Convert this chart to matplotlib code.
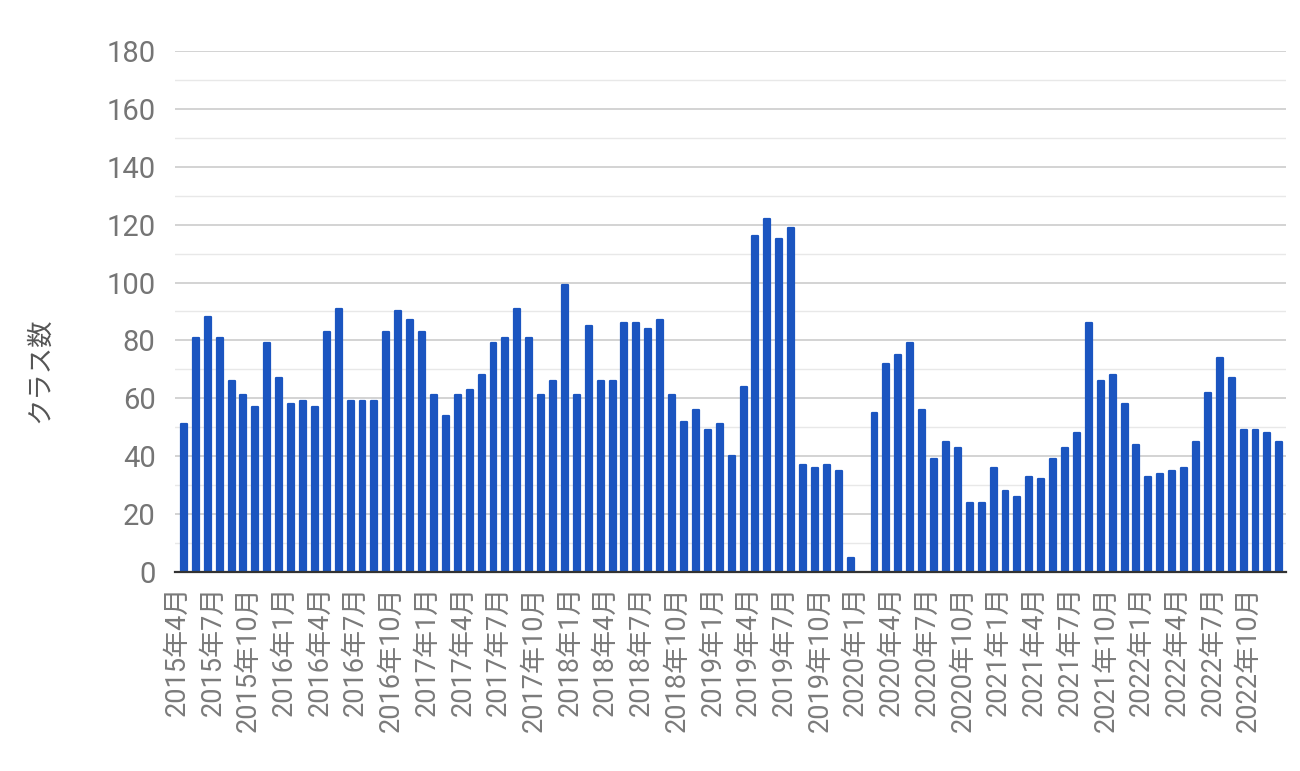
import matplotlib.pyplot as plt
import matplotlib.transforms as mtransforms
import numpy as np

plt.rcParams["font.family"] = ["Roboto", "Noto Sans CJK JP"]

# 月別クラス数 (2015年4月 - 2022年12月)
months = [f"{y}年{m}月" for y in range(2015, 2023) for m in range(1, 13)][3:]
counts = [
    51, 81, 88, 81, 66, 61, 57, 79, 67,              # 2015
    58, 59, 57, 83, 91, 59, 59, 59, 83, 90, 87, 83,  # 2016
    61, 54, 61, 63, 68, 79, 81, 91, 81, 61, 66, 99,  # 2017
    61, 85, 66, 66, 86, 86, 84, 87, 61, 52, 56, 49,  # 2018
    51, 40, 64, 116, 122, 115, 119, 37, 36, 37, 35, 5,  # 2019
    0, 55, 72, 75, 79, 56, 39, 45, 43, 24, 24, 36,   # 2020
    28, 26, 33, 32, 39, 43, 48, 86, 66, 68, 58, 44,  # 2021
    33, 34, 35, 36, 45, 62, 74, 67, 49, 49, 48, 45,  # 2022
]

x = np.arange(len(counts))
tick_idx = x[::3]
tick_labels = [months[i] for i in tick_idx]

fig = plt.figure(figsize=(13, 7.71), dpi=100)
ax = fig.add_axes([0.1346, 0.258, 0.855, 0.676])

bars = ax.bar(x, counts, width=0.5, color="#1b55c0",
              edgecolor="#1b55c0", linewidth=1.6, zorder=3)
for b, v in zip(bars, counts):
    b.set_joinstyle("round")
    if v == 0:
        b.set_visible(False)

ax.set_ylim(0, 180)
ax.set_xlim(-0.75, len(counts) - 0.4)
ax.set_yticks(np.arange(0, 181, 20))
ax.set_yticks(np.arange(10, 180, 20), minor=True)
ax.grid(axis="y", which="major", color="#cccccc", linewidth=1.2, zorder=0)
ax.grid(axis="y", which="minor", color="#e8e8e8", linewidth=1.0, zorder=0)

for side in ("top", "right", "left"):
    ax.spines[side].set_visible(False)
ax.spines["bottom"].set_color("#333333")
ax.spines["bottom"].set_linewidth(1.6)
ax.spines["bottom"].set_zorder(4)

ax.tick_params(axis="y", which="both", length=0, pad=14,
               labelsize=21, labelcolor="#757575")
ax.set_xticks(tick_idx)
ax.set_xticklabels(tick_labels, rotation=90, fontsize=19.5, color="#7a7a7a")
ax.tick_params(axis="x", length=0, pad=10)
shift = mtransforms.ScaledTranslation(-7 / 100, 0, fig.dpi_scale_trans)
for lab in ax.get_xticklabels():
    lab.set_transform(lab.get_transform() + shift)

fig.text(0.031, 0.52, "クラス数", rotation=90, ha="center", va="center",
         fontsize=19, color="#555555")

fig.savefig("out.png", dpi=100)
